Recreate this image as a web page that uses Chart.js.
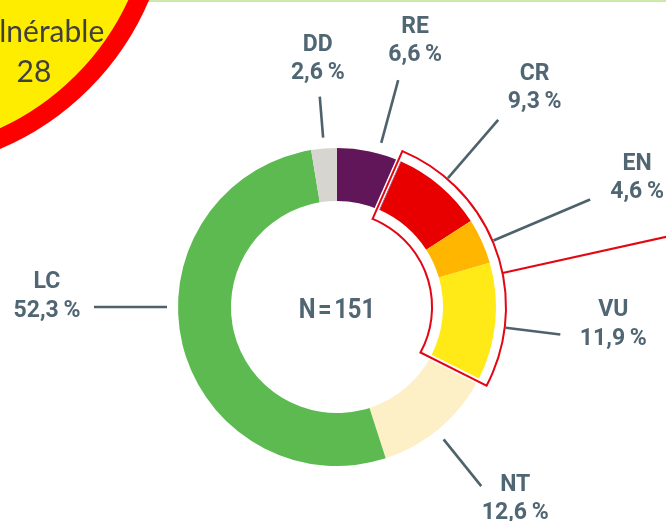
<!DOCTYPE html>
<html><head><meta charset="utf-8">
<script src="https://cdn.jsdelivr.net/npm/chart.js@4"></script>
<style>html,body{margin:0;padding:0;background:#fff;overflow:hidden}#wrap{width:666px;height:521px;position:relative}</style>
</head><body><div id="wrap"><canvas id="c"></canvas></div>
<script>
// ---- data ----
const categories = ['RE', 'CR', 'EN', 'VU', 'NT', 'LC', 'DD'];
const percentages = [6.6, 9.3, 4.6, 11.9, 12.6, 52.3, 2.6];
const sliceColors = ['#62165a', '#e80000', '#ffb600', '#ffe916', '#fdf0c6', '#5cba51', '#d6d5d0'];
const totalN = 151;
const highlighted = ['CR', 'EN', 'VU'];
const badgeTitle = 'Vulnérable';
const badgeValue = 28;

// ---- annotation layout (degrees clockwise from top, radii in px) ----
const labelLayout = {
  DD: { dAng: 0,   r2: 211, dx: -2,   dy: -25.5 },
  RE: { dAng: 3.2, r2: 235, dx: 17,   dy: -27 },
  CR: { dAng: 0.2, r2: 247, dx: 36.5, dy: -20 },
  EN: { dAng: 1.4, r2: 275, dx: 47,   dy: -9.5 },
  VU: { dAng: 1.7, r2: 225, dx: 53,   dy: 2 },
  NT: { dAng: 1.7, r2: 230, dx: 34,   dy: 25 },
  LC: { fixed: 270, r2: 243, dx: -47, dy: 1.5 }
};
const connectorAngle = 78.4;
const TEXT = '#506673', LINE = '#4e626c';

function fmt(v) { return v.toFixed(1).replace('.', ',') + '\u2009%'; }

const annot = {
  id: 'annot',
  afterDraw(chart) {
    const ctx = chart.ctx;
    const meta = chart.getDatasetMeta(0);
    const a0 = meta.data[0];
    const cx = a0.x, cy = a0.y, R = a0.outerRadius, r = a0.innerRadius;
    const pt = (deg, rad) => [cx + rad * Math.sin(deg * Math.PI / 180), cy - rad * Math.cos(deg * Math.PI / 180)];
    const toTop = a => a * 180 / Math.PI + 90;

    // top green rule
    ctx.save();
    ctx.strokeStyle = '#cde8ab'; ctx.lineWidth = 2;
    ctx.beginPath(); ctx.moveTo(0, 1); ctx.lineTo(chart.width, 1); ctx.stroke();

    // badge circle
    ctx.beginPath(); ctx.arc(-110, -110, 272, 0, Math.PI * 2);
    ctx.fillStyle = '#ffed00'; ctx.fill();
    ctx.lineWidth = 19; ctx.strokeStyle = '#ff0000'; ctx.stroke();
    ctx.fillStyle = '#404040'; ctx.font = '30px Lato'; ctx.textAlign = 'center'; ctx.textBaseline = 'alphabetic';
    ctx.fillText(badgeTitle, 34, 42);
    ctx.fillText(String(badgeValue), 34, 82);
    ctx.restore();

    // highlight outline around threatened categories
    const iS = categories.indexOf(highlighted[0]);
    const iE = categories.indexOf(highlighted[highlighted.length - 1]);
    const sA = meta.data[iS].startAngle, eA = meta.data[iE].endAngle;
    const Ro = R + 10, Ri = r - 11;
    ctx.save();
    ctx.beginPath();
    ctx.arc(cx, cy, Ro, sA - 3 / Ro, eA + 3 / Ro);
    ctx.arc(cx, cy, Ri, eA + 3 / Ri, sA - 3 / Ri, true);
    ctx.closePath();
    ctx.lineJoin = 'miter';
    ctx.strokeStyle = '#ffffff'; ctx.lineWidth = 5; ctx.stroke();
    ctx.strokeStyle = '#e30613'; ctx.lineWidth = 2; ctx.stroke();
    // connector to the right
    const p = pt(connectorAngle, Ro);
    ctx.beginPath(); ctx.moveTo(p[0], p[1]);
    ctx.lineTo(chart.width + 5, p[1] - (chart.width + 5 - p[0]) * 0.221);
    ctx.stroke();
    ctx.restore();

    // labels
    ctx.save();
    categories.forEach((c, i) => {
      const arc = meta.data[i];
      const L = labelLayout[c];
      const mid = toTop((arc.startAngle + arc.endAngle) / 2);
      const ang = L.fixed !== undefined ? L.fixed : mid + L.dAng;
      const s = pt(ang, R + 11), e = pt(ang, L.r2);
      ctx.strokeStyle = LINE; ctx.lineWidth = 2.6; ctx.lineCap = 'butt';
      ctx.beginPath(); ctx.moveTo(s[0], s[1]); ctx.lineTo(e[0], e[1]); ctx.stroke();
      const tx = e[0] + L.dx, ty = e[1] + L.dy;
      const fs = 23, cap = 0.711 * fs;
      ctx.fillStyle = TEXT; ctx.font = 'bold ' + fs + 'px Roboto';
      ctx.textAlign = 'center'; ctx.textBaseline = 'alphabetic';
      ctx.fillText(c, tx, ty - 28.5 + cap / 2);
      ctx.fillText(fmt(percentages[i]), tx, ty + cap / 2);
    });
    // center total
    const fs = 28;
    ctx.font = 'bold ' + fs + 'px Roboto';
    ctx.translate(cx, cy + 1 + 0.711 * fs / 2);
    ctx.scale(0.85, 1);
    ctx.fillText('N\u200A=\u200A' + totalN, 0, 0);
    ctx.restore();
  }
};

new Chart(document.getElementById('c'), {
  type: 'doughnut',
  data: {
    labels: categories,
    datasets: [{ data: percentages, backgroundColor: sliceColors, borderWidth: 0, hoverOffset: 0 }]
  },
  options: {
    responsive: true,
    maintainAspectRatio: false,
    animation: false,
    cutout: '66.7%',
    rotation: 0,
    layout: { padding: { left: 178, right: 170, top: 148, bottom: 55 } },
    plugins: { legend: { display: false }, tooltip: { enabled: false } },
    events: []
  },
  plugins: [annot]
});
</script>
</body></html>
